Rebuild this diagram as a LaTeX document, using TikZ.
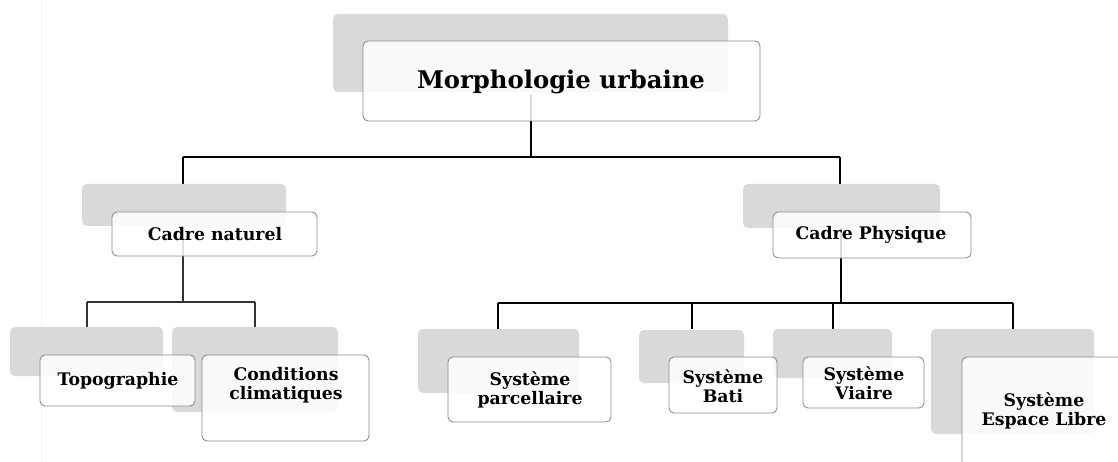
\documentclass[tikz,border=0pt]{standalone}
\usepackage{fontspec}
\setmainfont{DejaVu Serif}
\begin{document}
\definecolor{shadegray}{HTML}{D9D9D9}
\definecolor{edgegray}{HTML}{8C8C8C}
\begin{tikzpicture}[x=1pt,y=-1pt,
  shadowbox/.style={fill=shadegray,draw=none,rounded corners=5pt},
  whitebox/.style={draw=edgegray,line width=0.9pt,fill=white,fill opacity=0.85,rounded corners=5pt},
  lbl/.style={font=\bfseries\fontsize{17.3}{19.5}\selectfont,align=center,inner sep=0pt},
  biglbl/.style={font=\bfseries\fontsize{24.3}{28}\selectfont,align=center,inner sep=0pt},
  trunk/.style={line width=2.8pt,black},
  branchA/.style={line width=1.3pt,black!80},
  branchB/.style={line width=2pt,black}]
\useasboundingbox (0,0) rectangle (1118,462);
\draw[gray!10,line width=0.8pt] (41,0) -- (41,462);
% named junction coordinates
\coordinate (mtop) at (531,95);
\coordinate (mj) at (531,157);
\coordinate (lj) at (183,157);
\coordinate (rj) at (840,157);
\coordinate (ltop) at (183,184);
\coordinate (rtop) at (840,184);
\coordinate (cnt) at (183,215);
\coordinate (cnj) at (183,302);
\coordinate (cnl) at (87,302);
\coordinate (cnr) at (255,302);
\coordinate (topo) at (87,327);
\coordinate (clim) at (255,327);
\coordinate (cpt) at (841,215);
\coordinate (cpj) at (841,303);
\coordinate (p1) at (498,303);
\coordinate (p2) at (692,303);
\coordinate (p3) at (833,303);
\coordinate (p4) at (1013,303);
\coordinate (q1) at (498,329);
\coordinate (q2) at (692,329);
\coordinate (q3) at (833,329);
\coordinate (q4) at (1013,329);
% connectors
\draw[trunk] (mtop) -- (mj);
\draw[trunk] (lj) -- (rj);
\draw[trunk] (lj) -- (ltop);
\draw[trunk] (rj) -- (rtop);
\draw[branchA] (cnt) -- (cnj);
\draw[branchA] (cnl) -- (cnr);
\draw[branchA] (cnl) -- (topo);
\draw[branchA] (cnr) -- (clim);
\draw[branchB] (cpt) -- (cpj);
\draw[branchB] (p1) -- (p4);
\draw[branchB] (p1) -- (q1);
\draw[branchB] (p2) -- (q2);
\draw[branchB] (p3) -- (q3);
\draw[branchB] (p4) -- (q4);
% shadows
\fill[shadowbox] (333,14) rectangle (728,92);
\fill[shadowbox] (82,184) rectangle (286,226);
\fill[shadowbox] (10,327) rectangle (163,376);
\fill[shadowbox] (172,327) rectangle (338,412);
\fill[shadowbox] (743,184) rectangle (940,228);
\fill[shadowbox] (418,329) rectangle (579,393);
\fill[shadowbox] (639,330) rectangle (744,383);
\fill[shadowbox] (773,329) rectangle (892,378);
\fill[shadowbox] (931,329) rectangle (1094,434);
% boxes
\draw[whitebox] (363,41) rectangle (760,121);
\draw[whitebox] (112,212) rectangle (317,256);
\draw[whitebox] (40,355) rectangle (195,406);
\draw[whitebox] (202,355) rectangle (369,441);
\draw[whitebox] (773,212) rectangle (971,258);
\draw[whitebox] (448,357) rectangle (611,422);
\draw[whitebox] (669,357) rectangle (777,413);
\draw[whitebox] (803,357) rectangle (924,408);
\draw[whitebox] (962,357) rectangle (1130,475);
% labels
\node[biglbl] (morph) at (561,82) {Morphologie urbaine};
\node[lbl] (cnat) at (215,234) {Cadre naturel};
\node[lbl] (topg) at (118,381) {Topographie};
\node[lbl] (cond) at (286,385) {Conditions\\climatiques};
\node[lbl] (cphy) at (871,235) {Cadre Physique};
\node[lbl] (parc) at (530,390) {Système\\parcellaire};
\node[lbl] (bati) at (723,386) {Système\\Bati};
\node[lbl] (viai) at (864,383) {Système\\Viaire};
\node[lbl] (esp) at (1044,411) {Système\\Espace Libre};
\end{tikzpicture}
\end{document}
